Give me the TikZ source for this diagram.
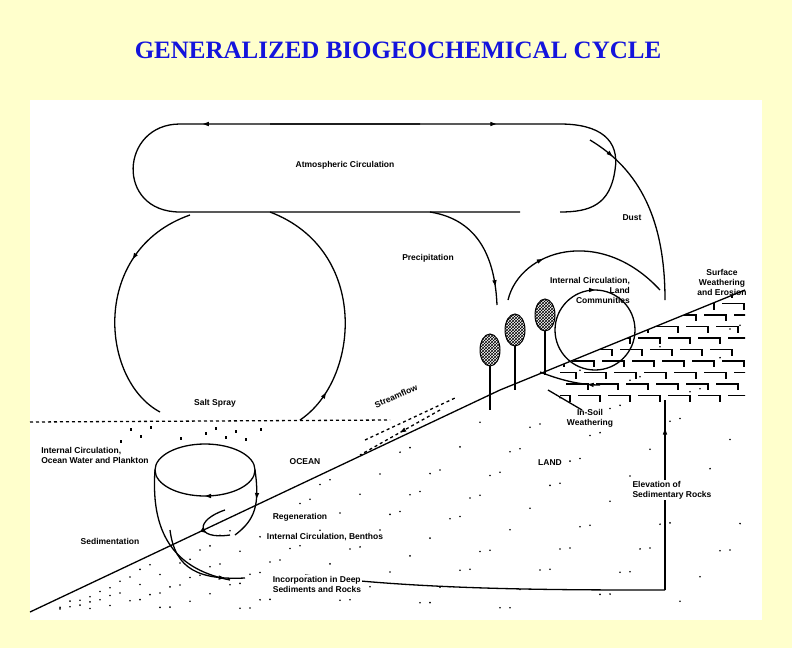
\documentclass[tikz,border=0pt]{standalone}
\usepackage{fontspec}
\setmainfont{Liberation Serif}
\newfontfamily\lab{Liberation Sans}
\usetikzlibrary{arrows.meta,decorations.markings,patterns}
\definecolor{bg}{RGB}{255,255,204}
\definecolor{tblue}{RGB}{20,20,220}
\begin{document}
\begin{tikzpicture}[x=1pt,y=-1pt,
  ln/.style={line width=1.3pt,black},
  lbl/.style={font=\lab\bfseries\fontsize{8.5}{10}\selectfont,align=center,inner sep=1pt},
  arr/.style={postaction={decorate},decoration={markings,mark=at position #1 with {\arrow{Triangle[length=6pt,width=4pt]}}}}]
\useasboundingbox (0,0) rectangle (792,648);
\fill[bg] (0,0) rectangle (792,648);
\fill[white] (30,100) rectangle (762,620);
\node[font=\bfseries\fontsize{25}{28}\selectfont,text=tblue] (title) at (398,50) {GENERALIZED BIOGEOCHEMICAL CYCLE};
% dots (land)
\foreach \i in {1,...,160}{
  \pgfmathsetmacro\px{60+mod(\i*37,69)*10}
  \pgfmathsetmacro\gy{\px<500 ? 612-(\px-30)*0.472 : 390-(\px-500)*0.41}
  \pgfmathsetmacro\py{\gy+8+mod(\i*23,97)/97*(612-\gy-10)}
  \fill (\px,\py) circle (0.9);
}
% salt spray specks
\foreach \px/\py in {130/428,140/435,150/426,205/432,215/427,225/436,235/430,245/438,260/428,120/440,180/437}{
  \fill (\px,\py) rectangle ++(2,3);
}
% atmospheric loop
\draw[ln,arr=0.3] (420,124) -- (180,124) .. controls (120,124) and (115,212) .. (180,212) -- (520,212);
\draw[ln,arr=0.5] (270,124) -- (560,124) .. controls (600,124) and (620,140) .. (615,170) .. controls (610,205) and (590,212) .. (560,212);
\node[lbl] (atm) at (345,165) {Atmospheric Circulation};
% right big line
\draw[ln,arr=0.15] (590,140) .. controls (640,170) and (665,220) .. (665,300);
% dust
\draw[ln,arr=0.3] (508,300) .. controls (520,250) and (600,225) .. (660,290);
\node[lbl] (dust) at (632,218) {Dust};
% precipitation
\draw[ln,arr=0.85] (430,212) .. controls (480,220) and (495,260) .. (497,305);
\node[lbl] (prec) at (428,258) {Precipitation};
% ocean big loop
\draw[ln,arr=0.3] (190,215) .. controls (90,250) and (100,380) .. (160,412);
\draw[ln,arr=0.15] (300,420) .. controls (360,380) and (370,250) .. (270,212);
\node[lbl] (salt) at (215,403) {Salt Spray};
% land communities circle
\draw[ln,arr=0.75] (595,330) circle (40);
\node[lbl,align=right] (ic) at (590,290) {Internal Circulation,\\\hfill Land\\Communities};
\node[lbl] (sw) at (722,282) {Surface\\Weathering\\and Erosion};
% ground
\draw[ln] (30,612) -- (500,390) -- (745,290);
\draw[ln,dashed] (30,422) -- (390,420);
\draw[ln,dashed] (365,440) -- (455,398);
\draw[ln,dashed,arr=0.5] (440,410) -- (360,455);
\node[lbl,rotate=24] (stream) at (396,396) {Streamflow};
% trees
\foreach \x/\y/\h in {490/350/60,515/330/60,545/315/60}{
  \draw[ln] (\x,\y) -- (\x,\y+\h);
  \draw[line width=1pt,fill=white] (\x,\y) ellipse (10 and 16);
  \fill[pattern=crosshatch] (\x,\y) ellipse (10 and 16);
}
% bricks
\begin{scope}
\clip (560,405) -- (560,366) -- (745,290) -- (745,405) -- cycle;
\foreach \r in {0,...,9}{
  \foreach \c in {0,...,6}{
    \pgfmathsetmacro\xx{560+\c*30+mod(\r,2)*15-\r*3}
    \pgfmathsetmacro\yy{292+\r*11.5}
    \ifdim\xx pt<740pt \draw[line width=1.2pt] (\xx,\yy) -- ++(22,0) -- ++(0,6); \fi
  }
}
\end{scope}
\draw[ln,arr=0.2] (600,385) .. controls (580,385) and (560,380) .. (540,372);
\draw[ln] (548,390) -- (582,410);
\node[lbl] (insoil) at (590,418) {In-Soil\\Weathering};
\node[lbl] (land) at (550,463) {LAND};
\draw[ln,arr=0.85] (665,590) -- (665,400);
\draw[ln] (305,575) .. controls (420,590) and (560,590) .. (665,590);
\node[lbl,align=left,fill=white] (elev) at (672,490) {Elevation of\\Sedimentary Rocks};
% ocean cup
\node[lbl] (ocean) at (305,462) {OCEAN};
\draw[ln,arr=0.25] (205,470) ellipse (50 and 26);
\draw[ln] (155,470) .. controls (150,540) and (180,570) .. (230,580);
\draw[ln,arr=0.4] (255,470) .. controls (260,505) and (255,520) .. (235,535);
\draw[ln,arr=0.6] (225,510) .. controls (195,520) and (195,540) .. (230,535);
\draw[ln,arr=0.8] (170,530) .. controls (175,570) and (200,580) .. (245,578);
\node[lbl,align=left] (icow) at (95,455) {Internal Circulation,\\Ocean Water and Plankton};
\node[lbl,align=left,fill=white] (regen) at (300,517) {Regeneration};
\node[lbl,align=left,fill=white] (icb) at (325,537) {Internal Circulation, Benthos};
\node[lbl] (sed) at (110,541) {Sedimentation};
\node[lbl,align=left,fill=white] (inc) at (317,584) {Incorporation in Deep\\Sediments and Rocks};
\end{tikzpicture}
\end{document}
